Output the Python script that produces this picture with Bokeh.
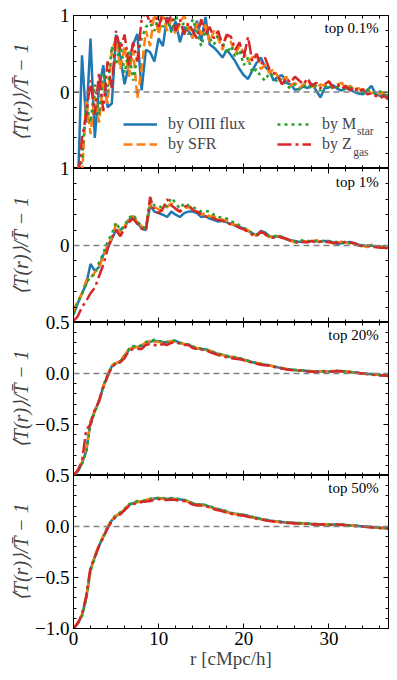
from bokeh.plotting import figure
from bokeh.models import FixedTicker, LinearAxis, Span, Label, Legend, LegendItem, Range1d
from bokeh.layouts import column
from bokeh.embed import file_html
from bokeh.resources import INLINE

# ---------------- data ----------------
R = [0.0, 0.5, 1.0, 1.5, 2.0, 2.5, 3.0, 3.5, 4.0, 4.5,
     5.0, 5.5, 6.0, 6.5, 7.0, 7.5, 8.0, 8.5, 9.0, 9.5,
     10.0, 10.5, 11.0, 11.5, 12.0, 12.5, 13.0, 13.5, 14.0, 14.5,
     15.0, 15.5, 16.0, 16.5, 17.0, 17.5, 18.0, 18.5, 19.0, 19.5,
     20.0, 20.5, 21.0, 21.5, 22.0, 22.5, 23.0, 23.5, 24.0, 24.5,
     25.0, 25.5, 26.0, 26.5, 27.0, 27.5, 28.0, 28.5, 29.0, 29.5,
     30.0, 30.5, 31.0, 31.5, 32.0, 32.5, 33.0, 33.5, 34.0, 34.5,
     35.0, 35.5, 36.0, 36.5, 37.0]

SERIES = ["by OIII flux", "by SFR", "by M", "by Z"]
TAGS = ["top 0.1%", "top 1%", "top 20%", "top 50%"]

# top 0.1%
P1_OIII = [-1.5, -1.3, 0.48, -0.4, 0.70, -0.6, 0.05, 0.35, -0.2, -0.15,
           0.75, 0.45, 0.10, 0.35, 0.62, 0.76, 0.02, 0.55, 0.52, 0.40,
           0.70, 0.60, 0.98, 0.80, 0.92, 0.65, 0.85, 0.80, 0.72, 0.93,
           0.67, 0.98, 0.62, 0.58, 0.52, 0.45, 0.55, 0.48, 0.40, 0.30,
           0.22, 0.17, 0.28, 0.38, 0.45, 0.33, 0.28, 0.15, 0.20, 0.22,
           0.12, 0.10, 0.03, 0.04, 0.07, 0.05, 0.11, 0.02, -0.07, 0.05,
           0.06, 0.09, 0.04, 0.02, 0.05, 0.03, 0.0, -0.02, -0.03, 0.02,
           0.08, -0.03, -0.05, -0.04, -0.07]
P1_SFR = [-1.4, -1.2, -1.1, -0.1, -0.55, -0.05, -0.4, 0.15, -0.15, 0.55,
          0.70, 0.30, 0.60, 0.20, 0.55, -0.08, 0.30, 0.80, 0.60, 1.05,
          0.75, 1.0, 0.80, 0.95, 0.75, 0.90, 1.0, 0.85, 0.70, 0.90,
          0.75, 0.88, 0.65, 0.80, 0.70, 0.55, 0.75, 0.65, 0.50, 0.60,
          0.52, 0.40, 0.45, 0.50, 0.30, 0.35, 0.25, 0.30, 0.20, 0.15,
          0.20, 0.08, 0.12, 0.05, 0.10, 0.15, 0.08, 0.05, 0.10, 0.08,
          0.13, 0.05, 0.10, 0.12, 0.04, 0.08, 0.03, 0.05, 0.0, 0.04,
          -0.02, 0.0, -0.03, 0.0, -0.06]
P1_MSTAR = [-1.3, -1.1, -0.9, -0.15, -0.4, 0.1, -0.3, 0.25, 0.0, 0.60,
            0.35, 0.65, 0.25, 0.55, 0.15, 0.45, 0.70, 0.85, 0.90, 0.80,
            1.0, 0.85, 0.95, 0.78, 1.0, 0.85, 0.90, 0.75, 0.95, 0.78,
            0.60, 0.80, 0.70, 0.62, 0.75, 0.65, 0.50, 0.60, 0.45, 0.55,
            0.35, 0.45, 0.25, 0.30, 0.20, 0.15, 0.25, 0.20, 0.12, 0.18,
            0.08, 0.05, 0.10, 0.03, 0.07, 0.10, 0.04, 0.08, 0.02, 0.06,
            0.09, 0.04, 0.07, 0.05, 0.03, 0.06, 0.02, 0.04, -0.01, 0.03,
            0.0, -0.02, 0.01, -0.03, -0.05]
P1_ZGAS = [-1.4, -1.2, -0.6, -0.3, 0.15, -0.3, 0.25, -0.25, 0.40, 0.05,
           0.80, 0.55, 0.75, 0.35, 0.65, 0.40, 0.95, 1.05, 0.90, 1.10,
           0.85, 1.05, 0.90, 1.0, 0.80, 0.95, 0.75, 0.90, 0.80, 0.70,
           0.95, 0.75, 0.85, 0.70, 0.80, 0.60, 0.75, 0.72, 0.55, 0.65,
           0.45, 0.72, 0.40, 0.50, 0.35, 0.45, 0.30, 0.25, 0.20, 0.10,
           0.18, 0.12, 0.20, 0.15, 0.10, 0.18, 0.08, 0.12, 0.05, 0.10,
           0.14, 0.06, 0.10, 0.04, 0.08, 0.02, 0.07, 0.0, 0.04, -0.03,
           -0.02, -0.05, -0.08, -0.05, -0.10]

# top 1%
P2_OIII = [-0.90, -0.75, -0.62, -0.50, -0.24, -0.33, -0.28, -0.12, -0.02, 0.08,
           0.20, 0.20, 0.24, 0.33, 0.38, 0.30, 0.22, 0.20, 0.52, 0.44,
           0.42, 0.40, 0.37, 0.44, 0.40, 0.37, 0.42, 0.44, 0.44, 0.42,
           0.37, 0.38, 0.35, 0.33, 0.31, 0.32, 0.30, 0.28, 0.26, 0.24,
           0.22, 0.19, 0.16, 0.13, 0.19, 0.17, 0.12, 0.11, 0.12, 0.11,
           0.08, 0.07, 0.06, 0.05, 0.045, 0.05, 0.06, 0.055, 0.05, 0.06,
           0.06, 0.04, 0.02, 0.03, 0.04, 0.045, 0.03, 0.01, 0.0, -0.01,
           0.0, -0.015, -0.01, -0.03, -0.03]
P2_SFR = [-0.85, -0.72, -0.62, -0.45, -0.42, -0.35, -0.27, -0.15, 0.0, 0.10,
          0.28, 0.15, 0.25, 0.35, 0.38, 0.30, 0.25, 0.22, 0.55, 0.50,
          0.47, 0.45, 0.50, 0.55, 0.47, 0.44, 0.48, 0.50, 0.47, 0.45,
          0.40, 0.42, 0.38, 0.38, 0.33, 0.34, 0.32, 0.28, 0.27, 0.24,
          0.22, 0.20, 0.15, 0.13, 0.18, 0.14, 0.11, 0.12, 0.12, 0.10,
          0.08, 0.06, 0.04, 0.05, 0.06, 0.05, 0.05, 0.07, 0.05, 0.06,
          0.04, 0.03, 0.04, 0.05, 0.03, 0.04, 0.02, 0.0, -0.01, -0.02,
          0.01, -0.01, -0.02, -0.02, -0.03]
P2_MSTAR = [-0.88, -0.74, -0.63, -0.50, -0.40, -0.38, -0.22, -0.10, 0.05, 0.15,
            0.30, 0.20, 0.26, 0.36, 0.40, 0.32, 0.24, 0.23, 0.58, 0.52,
            0.52, 0.48, 0.52, 0.62, 0.55, 0.48, 0.55, 0.52, 0.50, 0.47,
            0.44, 0.45, 0.44, 0.40, 0.37, 0.36, 0.35, 0.31, 0.30, 0.26,
            0.23, 0.20, 0.16, 0.14, 0.19, 0.16, 0.12, 0.12, 0.13, 0.11,
            0.08, 0.07, 0.05, 0.06, 0.07, 0.06, 0.05, 0.06, 0.05, 0.07,
            0.05, 0.04, 0.05, 0.04, 0.03, 0.03, 0.02, 0.01, 0.0, -0.01,
            0.0, -0.02, -0.01, -0.02, -0.03]
P2_ZGAS = [-0.98, -0.92, -0.80, -0.72, -0.62, -0.55, -0.40, -0.25, -0.05, 0.10,
           0.20, 0.12, 0.22, 0.30, 0.35, 0.28, 0.22, 0.19, 0.63, 0.45,
           0.42, 0.48, 0.60, 0.52, 0.48, 0.44, 0.50, 0.53, 0.46, 0.44,
           0.40, 0.38, 0.36, 0.35, 0.33, 0.32, 0.30, 0.27, 0.26, 0.23,
           0.21, 0.18, 0.14, 0.12, 0.18, 0.15, 0.11, 0.10, 0.12, 0.10,
           0.09, 0.06, 0.05, 0.03, 0.05, 0.04, 0.06, 0.03, 0.05, 0.04,
           0.05, 0.03, 0.04, 0.03, 0.05, 0.04, 0.03, 0.0, -0.01, 0.0,
           -0.02, -0.02, -0.03, -0.03, -0.04]

# top 20%
P3_OIII = [-1.0, -0.96, -0.88, -0.76, -0.47, -0.37, -0.27, -0.13, -0.02, 0.07,
           0.10, 0.12, 0.17, 0.23, 0.26, 0.26, 0.27, 0.30, 0.31, 0.32,
           0.315, 0.31, 0.305, 0.315, 0.32, 0.30, 0.29, 0.285, 0.26, 0.245,
           0.24, 0.235, 0.22, 0.205, 0.19, 0.185, 0.17, 0.16, 0.155, 0.15,
           0.135, 0.125, 0.11, 0.10, 0.09, 0.085, 0.08, 0.07, 0.06, 0.05,
           0.045, 0.04, 0.035, 0.03, 0.03, 0.025, 0.02, 0.02, 0.02, 0.02,
           0.02, 0.02, 0.025, 0.025, 0.02, 0.015, 0.01, 0.005, 0.0, -0.005,
           -0.005, -0.01, -0.015, -0.02, -0.02]
P3_SFR = [-1.0, -0.95, -0.87, -0.74, -0.48, -0.36, -0.26, -0.12, -0.01, 0.08,
          0.10, 0.13, 0.18, 0.24, 0.25, 0.26, 0.28, 0.30, 0.32, 0.31,
          0.31, 0.30, 0.31, 0.32, 0.31, 0.30, 0.29, 0.28, 0.265, 0.25,
          0.24, 0.23, 0.225, 0.21, 0.195, 0.18, 0.17, 0.165, 0.155, 0.145,
          0.135, 0.12, 0.11, 0.105, 0.095, 0.085, 0.075, 0.07, 0.06, 0.055,
          0.045, 0.04, 0.035, 0.03, 0.025, 0.025, 0.02, 0.02, 0.025, 0.02,
          0.02, 0.025, 0.025, 0.02, 0.02, 0.015, 0.01, 0.0, 0.0, -0.005,
          -0.01, -0.01, -0.015, -0.02, -0.025]
P3_MSTAR = [-1.0, -0.96, -0.89, -0.77, -0.50, -0.38, -0.27, -0.12, -0.02, 0.07,
            0.11, 0.12, 0.17, 0.24, 0.27, 0.26, 0.28, 0.31, 0.32, 0.33,
            0.32, 0.31, 0.31, 0.32, 0.325, 0.30, 0.295, 0.28, 0.265, 0.25,
            0.245, 0.24, 0.225, 0.21, 0.195, 0.185, 0.175, 0.165, 0.16, 0.15,
            0.14, 0.125, 0.115, 0.105, 0.095, 0.085, 0.08, 0.07, 0.06, 0.055,
            0.045, 0.04, 0.035, 0.035, 0.03, 0.025, 0.025, 0.02, 0.02, 0.025,
            0.02, 0.025, 0.025, 0.02, 0.02, 0.015, 0.01, 0.005, 0.0, 0.0,
            -0.005, -0.01, -0.015, -0.015, -0.02]
P3_ZGAS = [-1.0, -0.95, -0.86, -0.55, -0.50, -0.36, -0.27, -0.14, -0.03, 0.06,
           0.10, 0.11, 0.15, 0.22, 0.24, 0.24, 0.24, 0.28, 0.29, 0.28,
           0.27, 0.29, 0.28, 0.30, 0.31, 0.29, 0.28, 0.28, 0.25, 0.24,
           0.235, 0.23, 0.21, 0.195, 0.18, 0.17, 0.16, 0.15, 0.145, 0.14,
           0.13, 0.12, 0.105, 0.095, 0.085, 0.08, 0.075, 0.065, 0.055, 0.05,
           0.04, 0.035, 0.03, 0.03, 0.025, 0.02, 0.02, 0.015, 0.02, 0.02,
           0.015, 0.02, 0.025, 0.02, 0.015, 0.015, 0.01, 0.005, 0.0, -0.005,
           -0.01, -0.015, -0.02, -0.02, -0.025]

# top 50%
P4_OIII = [-1.0, -0.95, -0.87, -0.70, -0.42, -0.30, -0.19, -0.10, -0.01, 0.06,
           0.10, 0.13, 0.16, 0.21, 0.23, 0.24, 0.245, 0.25, 0.265, 0.275,
           0.28, 0.275, 0.27, 0.275, 0.27, 0.265, 0.26, 0.245, 0.225, 0.215,
           0.215, 0.21, 0.195, 0.18, 0.17, 0.16, 0.145, 0.13, 0.125, 0.12,
           0.115, 0.105, 0.09, 0.085, 0.075, 0.065, 0.06, 0.05, 0.05, 0.045,
           0.04, 0.04, 0.035, 0.035, 0.03, 0.03, 0.025, 0.025, 0.02, 0.02,
           0.015, 0.02, 0.02, 0.02, 0.015, 0.01, 0.01, 0.005, 0.0, 0.0,
           -0.005, -0.01, -0.012, -0.015, -0.02]
P4_SFR = [-1.0, -0.94, -0.86, -0.69, -0.43, -0.29, -0.18, -0.09, 0.0, 0.06,
          0.11, 0.13, 0.17, 0.21, 0.22, 0.24, 0.25, 0.26, 0.27, 0.27,
          0.275, 0.27, 0.275, 0.27, 0.265, 0.26, 0.255, 0.24, 0.22, 0.215,
          0.21, 0.205, 0.19, 0.175, 0.165, 0.155, 0.14, 0.13, 0.12, 0.115,
          0.11, 0.10, 0.09, 0.08, 0.07, 0.065, 0.055, 0.05, 0.045, 0.04,
          0.04, 0.035, 0.035, 0.03, 0.03, 0.025, 0.025, 0.02, 0.02, 0.02,
          0.02, 0.02, 0.015, 0.02, 0.015, 0.01, 0.005, 0.005, 0.0, -0.005,
          -0.005, -0.01, -0.015, -0.015, -0.02]
P4_MSTAR = [-1.0, -0.95, -0.88, -0.71, -0.44, -0.31, -0.19, -0.10, -0.01, 0.07,
            0.11, 0.14, 0.17, 0.22, 0.23, 0.25, 0.25, 0.26, 0.27, 0.28,
            0.28, 0.28, 0.27, 0.28, 0.275, 0.27, 0.26, 0.25, 0.23, 0.22,
            0.215, 0.21, 0.20, 0.185, 0.17, 0.16, 0.15, 0.135, 0.125, 0.12,
            0.115, 0.105, 0.095, 0.085, 0.075, 0.07, 0.06, 0.055, 0.05, 0.045,
            0.04, 0.04, 0.035, 0.035, 0.03, 0.03, 0.025, 0.025, 0.02, 0.02,
            0.02, 0.02, 0.02, 0.02, 0.015, 0.01, 0.01, 0.005, 0.0, 0.0,
            -0.005, -0.01, -0.01, -0.015, -0.02]
P4_ZGAS = [-1.0, -0.95, -0.86, -0.68, -0.40, -0.30, -0.19, -0.11, -0.02, 0.05,
           0.10, 0.12, 0.16, 0.20, 0.22, 0.23, 0.24, 0.245, 0.25, 0.26,
           0.27, 0.26, 0.26, 0.265, 0.26, 0.25, 0.25, 0.235, 0.215, 0.205,
           0.205, 0.20, 0.185, 0.17, 0.16, 0.15, 0.135, 0.125, 0.115, 0.11,
           0.105, 0.095, 0.085, 0.075, 0.07, 0.06, 0.055, 0.05, 0.045, 0.04,
           0.035, 0.035, 0.03, 0.03, 0.025, 0.025, 0.02, 0.02, 0.02, 0.02,
           0.015, 0.015, 0.02, 0.015, 0.01, 0.01, 0.005, 0.0, 0.0, -0.005,
           -0.01, -0.01, -0.015, -0.02, -0.02]

X_MAJOR = [0, 10, 20, 30]
X_MINOR = [2, 4, 6, 8, 12, 14, 16, 18, 22, 24, 26, 28, 32, 34, 36]
Y_MAJOR_A = [-1, 0, 1]
Y_MINOR_A = [-0.8, -0.6, -0.4, -0.2, 0.2, 0.4, 0.6, 0.8]
Y_MAJOR_B = [-1.0, -0.5, 0.0, 0.5]
Y_MINOR_B = [-0.9, -0.8, -0.7, -0.6, -0.4, -0.3, -0.2, -0.1, 0.1, 0.2, 0.3, 0.4]

# ---------------- style ----------------
FONT = "Liberation Serif"
COLORS = ["#1f77b4", "#ff7f0e", "#2ca02c", "#d62728"]
DASHES = ["solid", "9 4", "3 4", "14 4 3 4"]
YLABEL = "\u27e8T(r)\u27e9/T\u0304 \u2212 1"

PANELS = [
    dict(ys=[P1_OIII, P1_SFR, P1_MSTAR, P1_ZGAS], yr=(-1, 1), major=Y_MAJOR_A, minor=Y_MINOR_A,
         labels={-1: "", 0: "0", 1: "1"}, fh=153, top=15, tagy=0.935, lstand=25),
    dict(ys=[P2_OIII, P2_SFR, P2_MSTAR, P2_ZGAS], yr=(-1, 1), major=Y_MAJOR_A, minor=Y_MINOR_A,
         labels={-1: "", 0: "0", 1: "1"}, fh=154, top=10, tagy=0.935, lstand=25),
    dict(ys=[P3_OIII, P3_SFR, P3_MSTAR, P3_ZGAS], yr=(-1, 0.5), major=Y_MAJOR_B, minor=Y_MINOR_B,
         labels={-1.0: "", -0.5: "\u22120.5", 0.0: "0.0", 0.5: "0.5"}, fh=153, top=10, tagy=0.451, lstand=0),
    dict(ys=[P4_OIII, P4_SFR, P4_MSTAR, P4_ZGAS], yr=(-1, 0.5), major=Y_MAJOR_B, minor=Y_MINOR_B,
         labels={-1.0: "\u22121.0", -0.5: "\u22120.5", 0.0: "0.0", 0.5: "0.5"}, fh=153, top=10, tagy=0.451, lstand=0),
]


def style_axis(ax, ticker, show_labels):
    ax.ticker = ticker
    ax.axis_line_color = "black"
    ax.axis_line_width = 1
    ax.major_tick_in = 5
    ax.major_tick_out = 0
    ax.minor_tick_in = 3
    ax.minor_tick_out = 0
    ax.major_tick_line_color = "black"
    ax.minor_tick_line_color = "black"
    if show_labels:
        ax.major_label_text_font = FONT
        ax.major_label_text_font_size = "19px"
        ax.major_label_text_color = "black"
        ax.major_label_standoff = 4
    else:
        ax.major_label_text_font_size = "0px"
        ax.major_label_standoff = 0
        ax.major_label_overrides = {t: "" for t in ticker.ticks}


plots = []
for k, pan in enumerate(PANELS):
    last = k == len(PANELS) - 1
    p = figure(frame_width=315, frame_height=pan["fh"],
               x_range=Range1d(0, 37), y_range=Range1d(*pan["yr"]),
               output_backend="svg", toolbar_location=None, tools="",
               min_border_left=73, min_border_right=6,
               min_border_top=pan["top"], min_border_bottom=0)
    p.border_fill_color = None
    p.background_fill_color = "white"
    p.outline_line_color = "black"
    p.outline_line_width = 1
    p.xgrid.visible = False
    p.ygrid.visible = False
    if k > 0:
        p.margin = (-10, 0, 0, 0)

    xt = FixedTicker(ticks=X_MAJOR, minor_ticks=X_MINOR)
    yt = FixedTicker(ticks=pan["major"], minor_ticks=pan["minor"])

    # bottom x axis
    xa = p.xaxis[0]
    style_axis(xa, xt, last)
    if last:
        xa.major_label_overrides = {0: "0", 10: "10", 20: "20", 30: "30"}
        xa.major_label_standoff = 3
        xa.axis_label = "r [cMpc/h]"
        xa.axis_label_text_font = FONT
        xa.axis_label_text_font_size = "19px"
        xa.axis_label_text_font_style = "normal"
        xa.axis_label_standoff = 0

    # left y axis
    ya = p.yaxis[0]
    style_axis(ya, yt, True)
    ya.major_label_overrides = pan["labels"]
    ya.axis_label = YLABEL
    ya.axis_label_text_font = FONT
    ya.axis_label_text_font_size = "20px"
    ya.axis_label_text_font_style = "italic"
    ya.axis_label_standoff = pan["lstand"]

    # top and right tick-only axes
    ta = LinearAxis()
    style_axis(ta, FixedTicker(ticks=X_MAJOR, minor_ticks=X_MINOR), False)
    p.add_layout(ta, "above")
    ra = LinearAxis()
    style_axis(ra, FixedTicker(ticks=pan["major"], minor_ticks=pan["minor"]), False)
    p.add_layout(ra, "right")

    p.add_layout(Span(location=0, dimension="width", line_color="#808080",
                      line_dash="6 4", line_width=1.5))

    rends = []
    for ys, c, d in zip(pan["ys"], COLORS, DASHES):
        rends.append(p.line(R, ys, line_color=c, line_dash=d, line_width=2.5))

    p.add_layout(Label(x=35.85, y=pan["tagy"], text=TAGS[k], text_align="right",
                       text_baseline="top", text_font=FONT, text_font_size="15px",
                       text_color="black"))

    if k == 0:
        items = [LegendItem(label=s, renderers=[r]) for s, r in zip(SERIES, rends)]
        leg = Legend(items=items, location=(50, 15), ncols=2,
                     glyph_width=34, glyph_height=18, label_height=18,
                     label_standoff=11, spacing=2, padding=0, margin=0,
                     label_width=107,
                     border_line_alpha=0, background_fill_alpha=0,
                     label_text_font=FONT, label_text_font_size="16px")
        p.add_layout(leg)
        p.add_layout(Label(x=33.3, y=-0.516, text="star", text_font=FONT,
                           text_font_size="11.5px", text_baseline="alphabetic"))
        p.add_layout(Label(x=32.85, y=-0.784, text="gas", text_font=FONT,
                           text_font_size="11.5px", text_baseline="alphabetic"))
    plots.append(p)

layout = column(*plots, spacing=0)
open("out.html", "w").write(file_html(layout, INLINE))
